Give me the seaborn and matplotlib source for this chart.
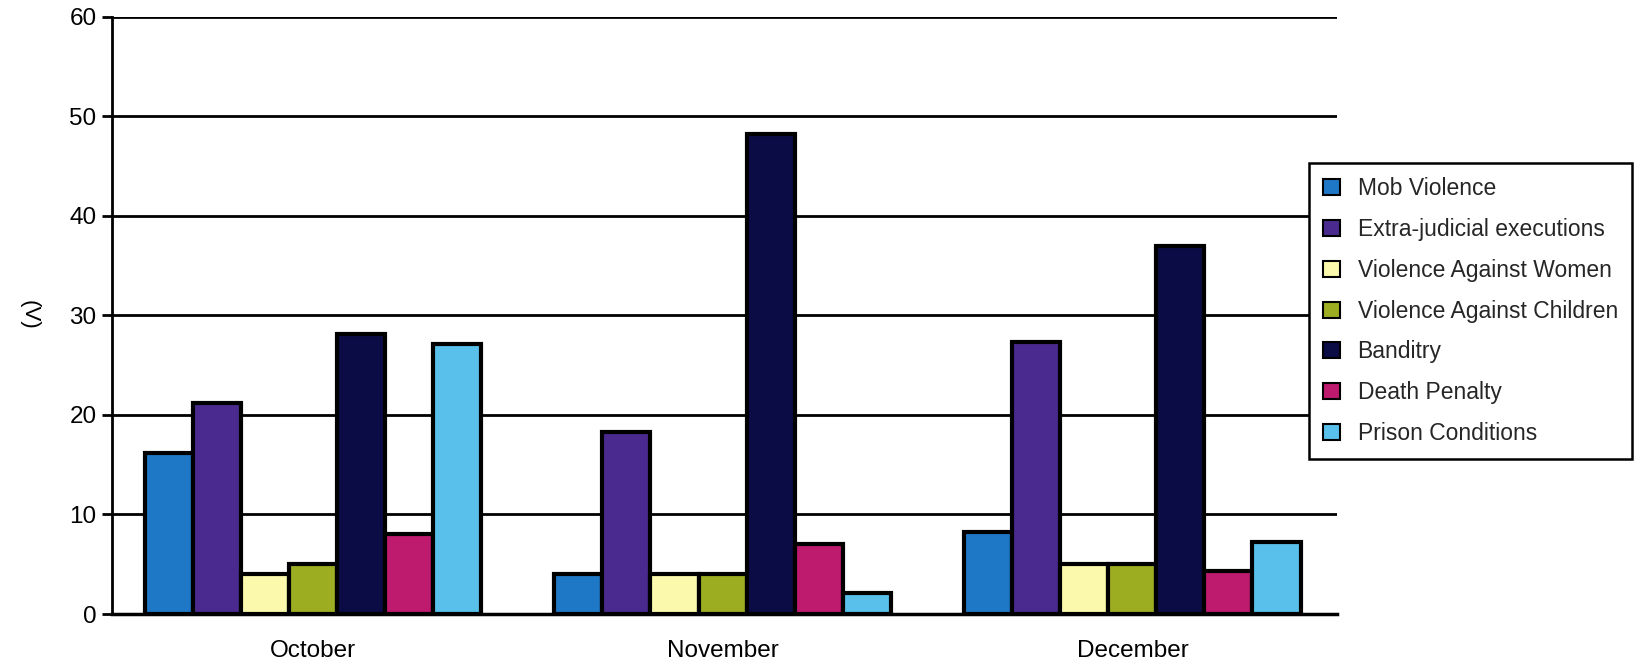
import matplotlib
matplotlib.use("Agg")
import matplotlib.pyplot as plt
import seaborn as sns
import pandas as pd

months = ["October", "November", "December"]
categories = [
    "Mob Violence",
    "Extra-judicial executions",
    "Violence Against Women",
    "Violence Against Children",
    "Banditry",
    "Death Penalty",
    "Prison Conditions",
]
mob_violence = [16.2, 4.0, 8.2]
extra_judicial = [21.2, 18.3, 27.3]
against_women = [4.0, 4.0, 5.0]
against_children = [5.0, 4.0, 5.0]
banditry = [28.1, 48.2, 37.0]
death_penalty = [8.0, 7.0, 4.3]
prison_conditions = [27.1, 2.1, 7.2]
y_ticks = [0, 10, 20, 30, 40, 50, 60]

colors = ["#1f78c6", "#4a2a8e", "#fbf9ac", "#9dad22", "#0b0b45", "#be1a6e", "#58c0ea"]

series = [mob_violence, extra_judicial, against_women, against_children,
          banditry, death_penalty, prison_conditions]
rows = []
for cat, vals in zip(categories, series):
    for m, v in zip(months, vals):
        rows.append({"Month": m, "Category": cat, "Value": v})
df = pd.DataFrame(rows)

sns.set_theme(style="white")
plt.rcParams["font.family"] = ["Liberation Sans", "DejaVu Sans"]

fig = plt.figure(figsize=(16.43, 6.66), dpi=100)
ax = fig.add_axes([0.068, 0.078, 0.746, 0.897])

sns.barplot(data=df, x="Month", y="Value", hue="Category",
            order=months, hue_order=categories, palette=colors,
            width=0.82, edgecolor="black", linewidth=3, saturation=1,
            errorbar=None, ax=ax)

ax.set_xlim(-0.49, 2.5)
ax.set_ylim(0, 60)
ax.set_yticks(y_ticks)
ax.yaxis.grid(True, color="black", linewidth=2)
ax.set_axisbelow(True)

for side in ["top", "right"]:
    ax.spines[side].set_visible(False)
ax.spines["left"].set_color("black")
ax.spines["left"].set_linewidth(2)
ax.spines["bottom"].set_color("black")
ax.spines["bottom"].set_linewidth(2.5)

ax.tick_params(axis="y", which="major", left=True, length=7, width=2,
               color="black", labelsize=17.5, pad=4, labelcolor="black")
ax.tick_params(axis="x", length=0, labelsize=17.5, pad=19, labelcolor="black")
ax.set_xlabel("")
ax.set_ylabel("(V)", fontsize=16, rotation=270, color="black",
              va="center", ha="center")
ax.yaxis.set_label_coords(-0.067, 0.5)

leg = ax.legend(loc="upper left", bbox_to_anchor=(0.797, 0.755),
                bbox_transform=fig.transFigure, fontsize=16.5,
                frameon=True, fancybox=False, edgecolor="black",
                handlelength=0.75, handleheight=0.7, handletextpad=0.75,
                labelspacing=0.78, borderpad=0.6, borderaxespad=0)
leg.get_frame().set_linewidth(1.8)
leg.get_frame().set_facecolor("white")
leg.get_frame().set_alpha(1)
for h in leg.legend_handles:
    h.set_linewidth(1.5)
    h.set_edgecolor("black")

fig.savefig("out.png", dpi=100, facecolor="white")
